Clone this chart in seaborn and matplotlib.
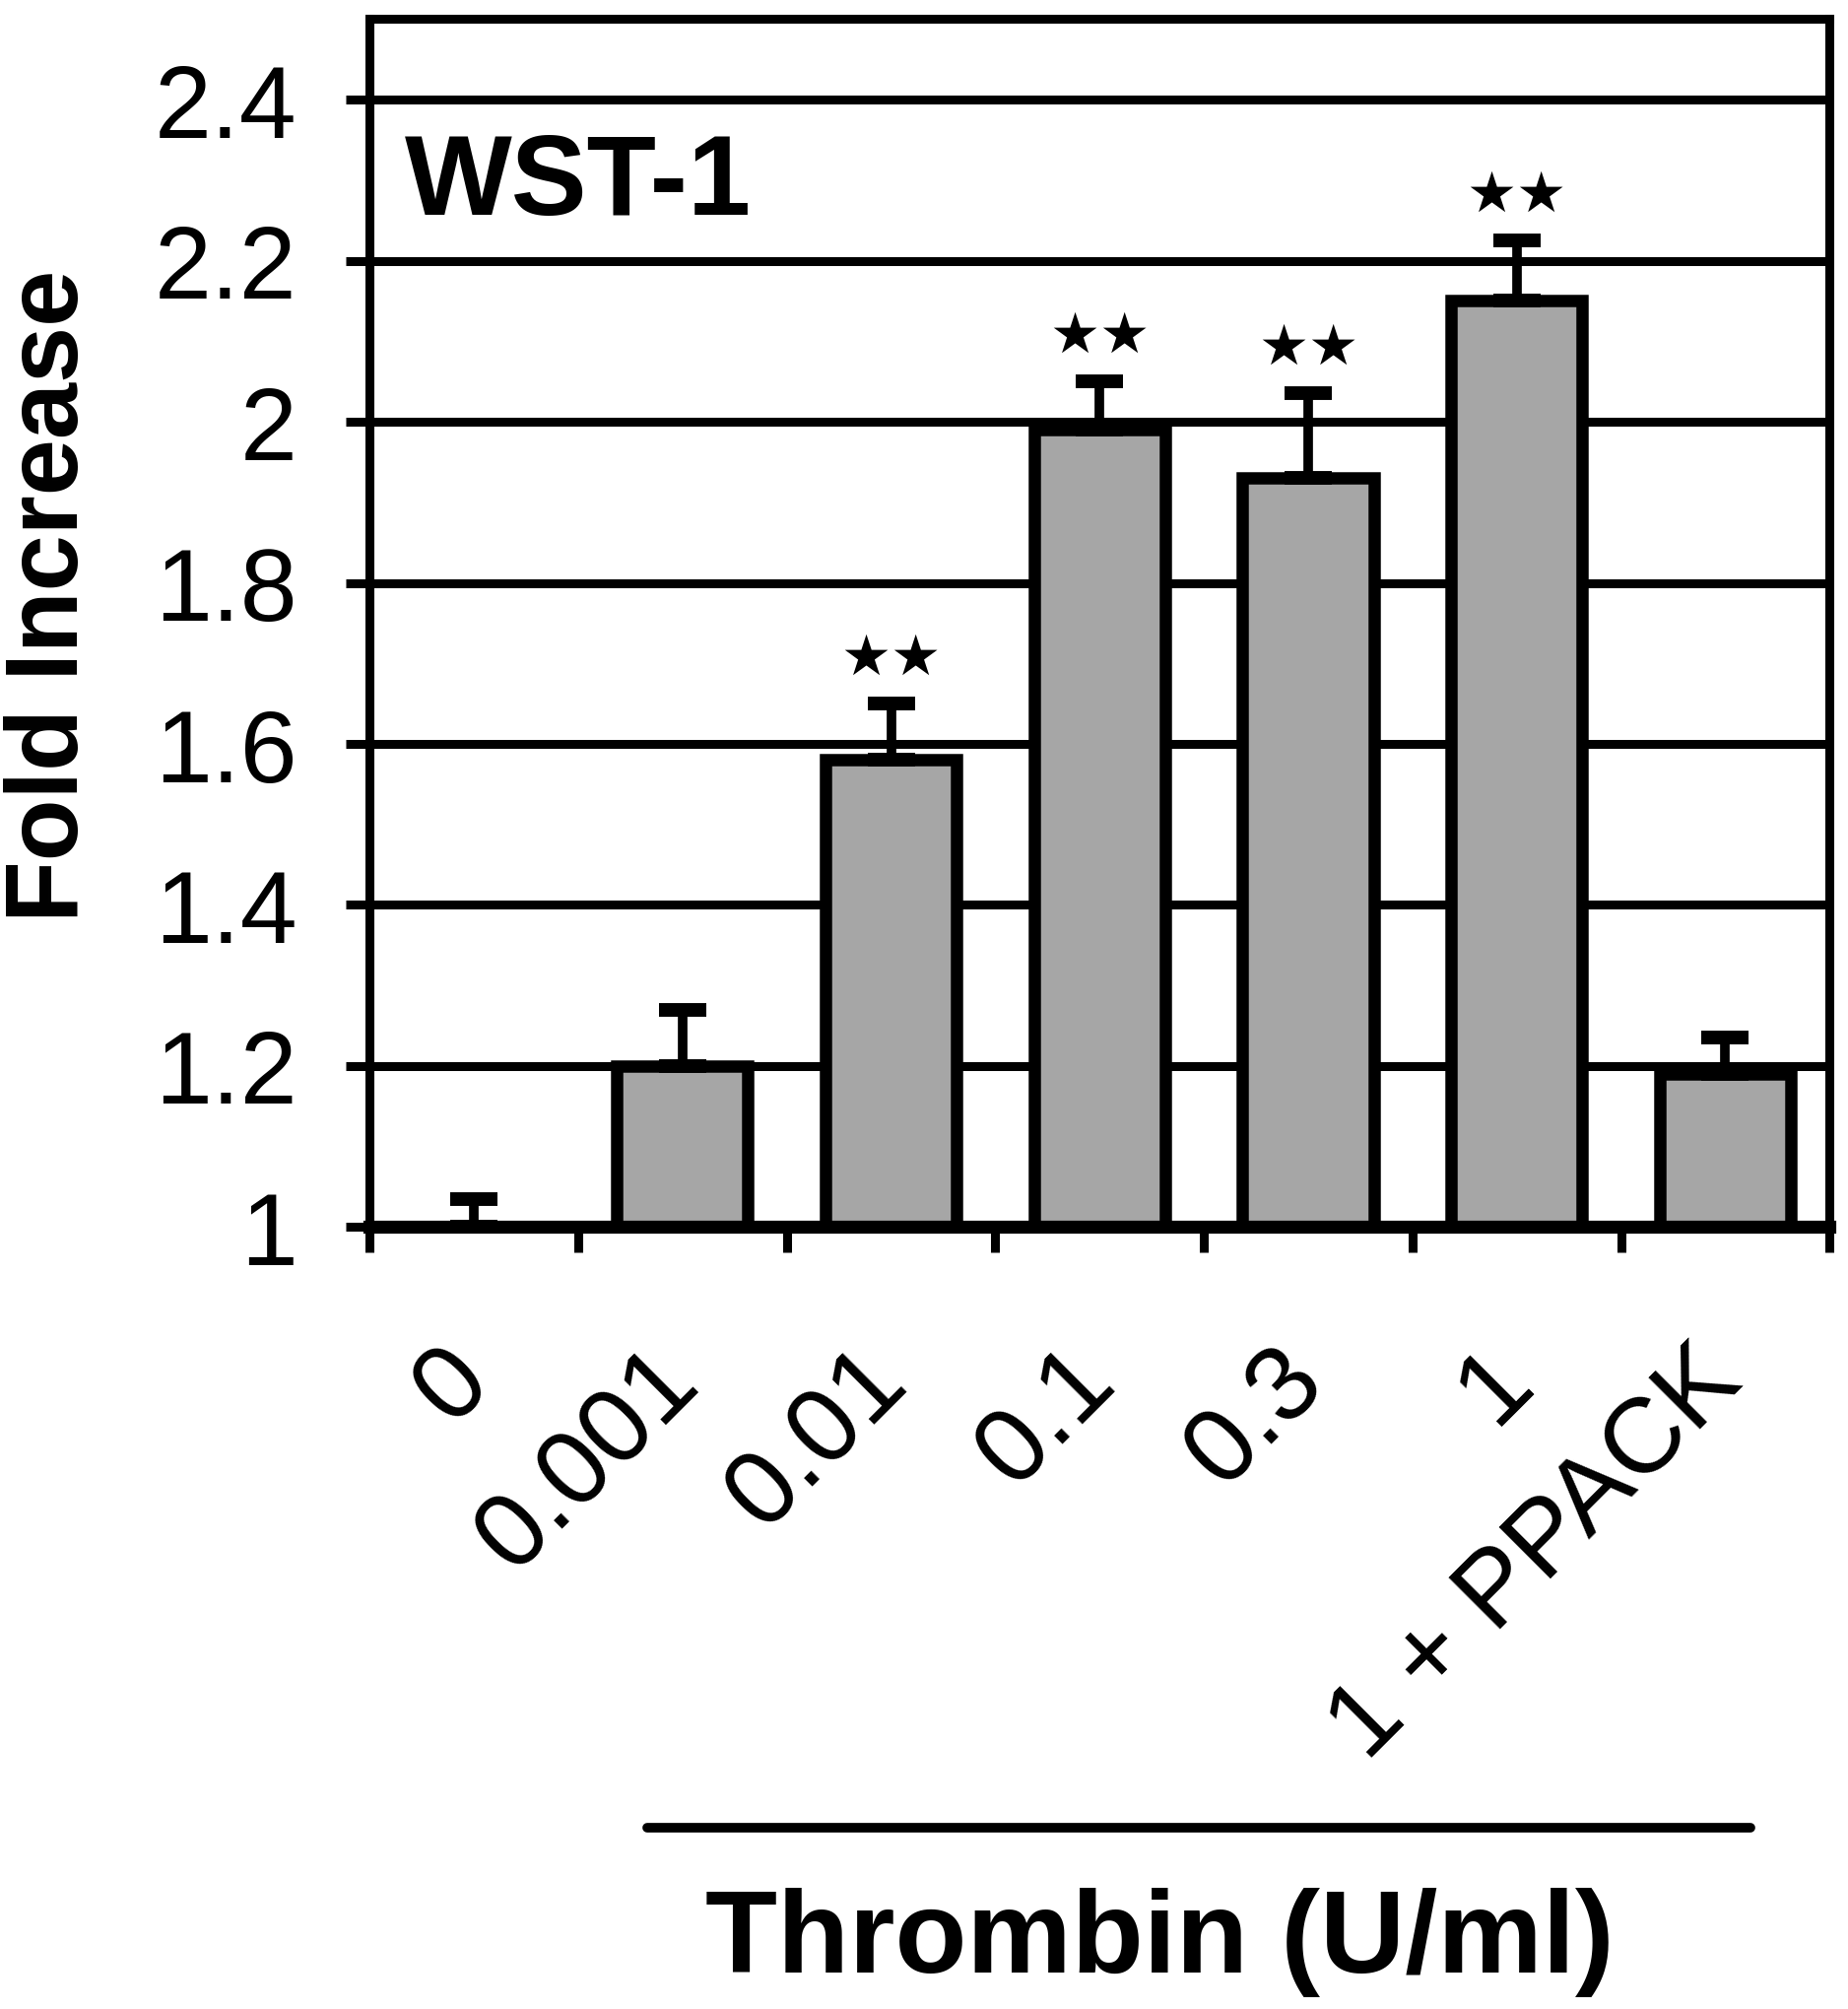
import numpy as np
import pandas as pd
import matplotlib.pyplot as plt
import matplotlib.transforms as mtransforms
import seaborn as sns

# values
doses = ["0", "0.001", "0.01", "0.1", "0.3", "1", "1 + PPACK"]
fold_increase = [1.00, 1.20, 1.58, 1.99, 1.93, 2.15, 1.19]
err_upper = [0.035, 0.07, 0.07, 0.06, 0.105, 0.075, 0.045]
significance = ["", "", "★★", "★★", "★★", "★★", ""]
y_ticks = [1, 1.2, 1.4, 1.6, 1.8, 2, 2.2, 2.4]
y_tick_labels = ["1", "1.2", "1.4", "1.6", "1.8", "2", "2.2", "2.4"]

df = pd.DataFrame({"dose": doses, "fold": fold_increase})

sns.set_style("ticks", {"axes.edgecolor": "black", "xtick.color": "black",
                        "ytick.color": "black", "text.color": "black",
                        "axes.labelcolor": "black"})
plt.rcParams["font.family"] = ["Liberation Sans", "DejaVu Sans"]

fig = plt.figure(figsize=(18.76, 20.4), dpi=100)
ax = fig.add_axes([0.200, 0.389, 0.790, 0.601])

sns.barplot(data=df, x="dose", y="fold", order=doses, color="#a6a6a6",
            saturation=1, edgecolor="black", linewidth=9, width=0.63,
            errorbar=None, ax=ax, zorder=3)

x_pos = np.arange(len(doses))
ax.errorbar(x_pos, fold_increase, yerr=[np.zeros(len(doses)), err_upper],
            fmt="none", ecolor="black", elinewidth=7, capsize=17, capthick=10,
            zorder=4)

for i, lab in enumerate(significance):
    if lab:
        ax.text(i, fold_increase[i] + err_upper[i] + 0.056, lab, ha="center",
                va="center", fontsize=41, family=["DejaVu Sans"], zorder=5)

ax.set_ylim(1, 2.5)
ax.set_xlim(-0.5, len(doses) - 0.5)
ax.set_yticks(y_ticks, y_tick_labels)
ax.set_xticks(x_pos, doses, rotation=45, ha="right", va="center",
              rotation_mode="anchor")
ax.set_xticks(np.arange(-0.5, len(doses), 1), minor=True)
ax.tick_params(axis="x", which="major", length=0, pad=100, labelsize=78)
ax.tick_params(axis="x", which="minor", length=19, width=6.5,
               direction="out", bottom=True)
ax.tick_params(axis="y", length=17, width=6.5, direction="out", pad=36,
               labelsize=75, left=True)

ax.yaxis.grid(True, color="black", linewidth=6.5)
ax.set_axisbelow(True)
for side in ["left", "right", "top"]:
    ax.spines[side].set_linewidth(6.5)
ax.spines["bottom"].set_linewidth(9.5)
ax.spines["bottom"].set_zorder(6)

ax.set_xlabel("")
ax.set_ylabel("Fold Increase", fontsize=74, fontweight="bold")
ax.yaxis.set_label_coords(-0.218, 0.523)
ax.yaxis.label.set_va("center")

ax.text(0.024, 0.863, "WST-1", transform=ax.transAxes, fontsize=83,
        fontweight="bold", ha="left", va="center")

# bracket under the thrombin doses
trans = mtransforms.blended_transform_factory(ax.transData, ax.transAxes)
ax.plot([0.832, 6.123], [-0.497, -0.497], color="black", linewidth=7,
        transform=trans, clip_on=False, solid_capstyle="round")
ax.text(3.29, -0.591, "Thrombin (U/ml)", transform=trans, fontsize=86,
        fontweight="bold", ha="center", va="center")

fig.savefig("out.png", dpi=100)
plt.close(fig)
